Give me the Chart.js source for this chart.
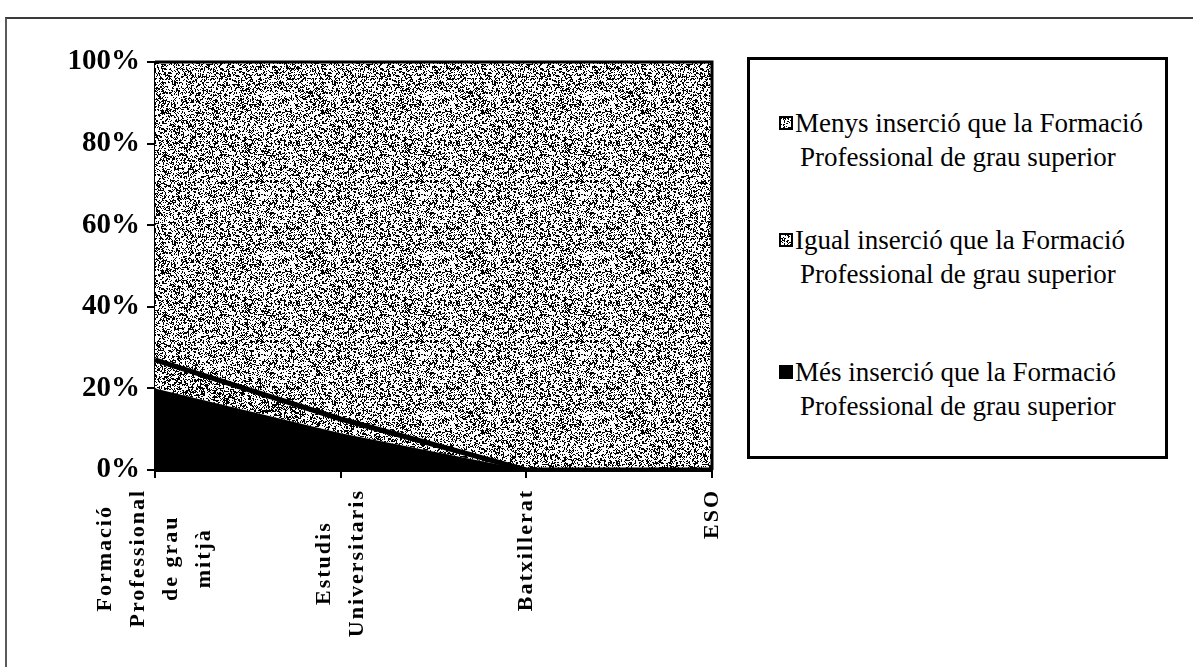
<!DOCTYPE html>
<html>
<head>
<meta charset="utf-8">
<script src="https://cdn.jsdelivr.net/npm/chart.js@4.4.1/dist/chart.umd.min.js"></script>
<style>
  html, body { margin: 0; padding: 0; background: #fff; }
  #wrap { position: relative; width: 1193px; height: 667px; overflow: hidden; background: #fff; }
  #frame { position: absolute; left: 5px; top: 17px; width: 1200px; height: 700px; border-top: 2px solid #3a3a3a; border-left: 2px solid #5a5a5a; }
  #chart { position: absolute; left: 0; top: 0; }
  #legend { position: absolute; left: 747px; top: 57px; width: 421px; height: 402px; box-sizing: border-box; border: 3px solid #000; background: #fff; }
  .lg { position: absolute; font-family: "Liberation Serif", "Times New Roman", serif; font-size: 27px; line-height: 34px; color: #000; white-space: nowrap; }
  .sw { position: absolute; width: 14px; height: 14px; box-sizing: border-box; border: 2px solid #000; }
</style>
</head>
<body>
<div id="wrap">
  <div id="frame"></div>
  <canvas id="chart" width="1193" height="667"></canvas>
  <div id="legend"></div>
</div>
<script>
// ---- data ----
const categories = [
  ['Formació', 'Professional', 'de grau', 'mitjà'],
  ['Estudis', 'Universitaris'],
  ['Batxillerat'],
  ['ESO']
];
const mesInsercio   = [20, 9, 0, 0];
const igualInsercio = [7, 3.5, 0, 0];
const menysInsercio = [73, 87.5, 100, 100];
const seriesNames = [
  ['Menys inserció que la Formació', 'Professional de grau superior'],
  ['Igual inserció que la Formació', 'Professional de grau superior'],
  ['Més inserció que la Formació', 'Professional de grau superior']
];
const yTicks = [0, 20, 40, 60, 80, 100];

// ---- stipple texture (deterministic hash, styling only) ----
function hash(x, y, s) {
  let n = Math.imul(x, 374761393) ^ Math.imul(y, 668265263) ^ Math.imul(s, 982451653);
  n = Math.imul(n ^ (n >>> 13), 1274126177);
  n ^= n >>> 16;
  return (n >>> 0) / 4294967296;
}
function stippleCanvas(density, seed) {
  const size = 160;
  const c = document.createElement('canvas');
  c.width = size; c.height = size;
  const g = c.getContext('2d');
  const img = g.createImageData(size, size);
  for (let y = 0; y < size; y++) {
    for (let x = 0; x < size; x++) {
      const h = hash(x, y, seed) * 0.6 + hash(x >> 1, y >> 1, seed + 7) * 0.4;
      const v = h < density ? 0 : 255;
      const i = (y * size + x) * 4;
      img.data[i] = v; img.data[i + 1] = v; img.data[i + 2] = v; img.data[i + 3] = 255;
    }
  }
  g.putImageData(img, 0, 0);
  return c;
}
const menysTex = stippleCanvas(0.41, 3);
const igualTex = stippleCanvas(0.45, 11);
const ctx = document.getElementById('chart').getContext('2d');
const menysPattern = ctx.createPattern(menysTex, 'repeat');
const igualPattern = ctx.createPattern(igualTex, 'repeat');

// ---- legend (HTML) ----
const legend = document.getElementById('legend');
const legendRows = [123, 240, 372];
const swatches = [
  'url(' + menysTex.toDataURL() + ')',
  'url(' + igualTex.toDataURL() + ')',
  '#000'
];
seriesNames.forEach((lines, k) => {
  const cy = legendRows[k] - 57 - 3;
  const sw = document.createElement('div');
  sw.className = 'sw';
  sw.style.left = (779 - 747 - 3) + 'px';
  sw.style.top = (cy - 7) + 'px';
  sw.style.background = swatches[k];
  legend.appendChild(sw);
  lines.forEach((t, j) => {
    const d = document.createElement('div');
    d.className = 'lg';
    d.textContent = t;
    d.style.left = ((j === 0 ? 795 : 800) - 747 - 3) + 'px';
    d.style.top = (cy - 17 + j * 34) + 'px';
    legend.appendChild(d);
  });
});

// ---- plugins ----
const framePlugin = {
  id: 'frame',
  afterDatasetsDraw(chart) {
    const a = chart.chartArea;
    const c = chart.ctx;
    c.save();
    c.strokeStyle = '#000';
    c.lineWidth = 3;
    c.beginPath();
    c.moveTo(a.left, a.top);
    c.lineTo(a.right, a.top);
    c.lineTo(a.right, a.bottom);
    c.stroke();
    c.restore();
  }
};
const xLabelPlugin = {
  id: 'xLabels',
  afterDraw(chart) {
    const sx = chart.scales.x;
    const c = chart.ctx;
    c.save();
    c.font = 'bold 22px "Liberation Serif", "Times New Roman", serif';
    if ('letterSpacing' in c) c.letterSpacing = '2px';
    c.fillStyle = '#000';
    c.textAlign = 'center';
    c.textBaseline = 'middle';
    const lineH = 33;
    const top = sx.top + 19;
    categories.forEach((lines, i) => {
      const x = sx.getPixelForTick(i);
      const W = Math.max(...lines.map(l => c.measureText(l).width));
      const cy = top + W / 2;
      const n = lines.length;
      lines.forEach((l, j) => {
        c.save();
        c.translate(x + (j - (n - 1) / 2) * lineH, cy);
        c.rotate(-Math.PI / 2);
        c.fillText(l, 0, 0);
        c.restore();
      });
    });
    c.restore();
  }
};

// ---- chart ----
new Chart(ctx, {
  type: 'line',
  data: {
    labels: categories.map(l => l.join(' ')),
    datasets: [
      {
        label: seriesNames[2].join(' '),
        data: mesInsercio,
        backgroundColor: '#000',
        borderColor: '#000',
        borderWidth: 0,
        fill: 'origin',
        pointRadius: 0,
        tension: 0
      },
      {
        label: seriesNames[1].join(' '),
        data: igualInsercio,
        backgroundColor: igualPattern,
        borderColor: '#000',
        borderWidth: 5,
        fill: '-1',
        pointRadius: 0,
        tension: 0
      },
      {
        label: seriesNames[0].join(' '),
        data: menysInsercio,
        backgroundColor: menysPattern,
        borderColor: 'rgba(0,0,0,0)',
        borderWidth: 0,
        fill: '-1',
        pointRadius: 0,
        tension: 0
      }
    ]
  },
  options: {
    responsive: false,
    animation: false,
    devicePixelRatio: 1,
    layout: { padding: { left: 0, right: 481, top: 62, bottom: 0 } },
    plugins: { legend: { display: false }, tooltip: { enabled: false } },
    scales: {
      x: {
        type: 'category',
        offset: false,
        grid: { display: true, drawOnChartArea: false, drawTicks: true, tickLength: 8, color: '#000', lineWidth: 2 },
        border: { display: true, color: '#000', width: 3 },
        ticks: { display: false },
        afterFit(scale) { scale.height = 197; }
      },
      y: {
        stacked: true,
        min: 0,
        max: 100,
        afterBuildTicks(scale) { scale.ticks = yTicks.map(v => ({ value: v })); },
        grid: { display: true, drawOnChartArea: false, drawTicks: true, tickLength: 8, color: '#000', lineWidth: 2 },
        border: { display: true, color: '#000', width: 3 },
        ticks: {
          padding: 7,
          color: '#000',
          font: { family: '"Liberation Serif", "Times New Roman", serif', size: 29, weight: 'bold' },
          callback: v => v + '%'
        },
        afterFit(scale) { scale.width = 155; }
      }
    }
  },
  plugins: [framePlugin, xLabelPlugin]
});
</script>
</body>
</html>
